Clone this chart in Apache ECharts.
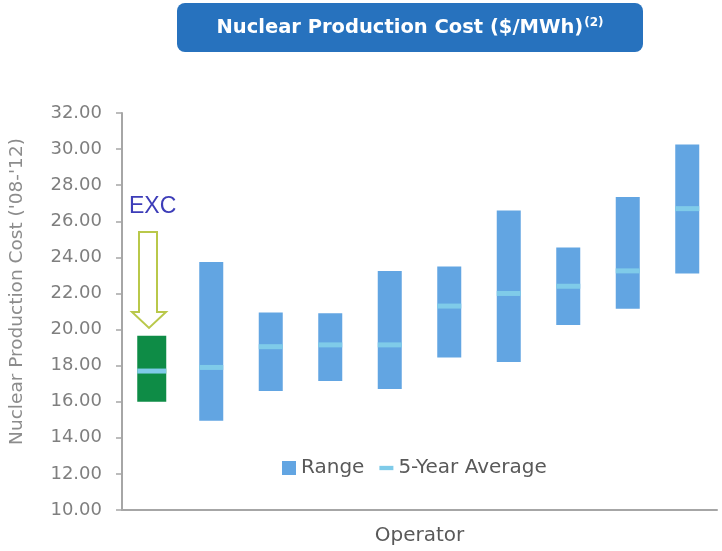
<!DOCTYPE html>
<html>
<head>
<meta charset="utf-8">
<title>Nuclear Production Cost</title>
<script src="https://cdn.jsdelivr.net/npm/echarts@6/dist/echarts.min.js"></script>
<style>
  html, body { margin: 0; padding: 0; background: #fff; }
  #chart { width: 722px; height: 551px; }
</style>
</head>
<body>
<div id="chart"></div>
<script>
// operators, EXC first (other operators are not named in the source)
const operators = ['EXC', 'Op 1', 'Op 2', 'Op 3', 'Op 4', 'Op 5', 'Op 6', 'Op 7', 'Op 8', 'Op 9'];
const rangeLow = [16.0, 14.95, 16.6, 17.15, 16.7, 18.45, 18.2, 20.25, 21.15, 23.1];
const rangeHigh = [19.65, 23.75, 20.95, 20.9, 23.25, 23.5, 26.6, 24.55, 27.35, 30.25];
const fiveYearAvg = [17.7, 17.9, 19.05, 19.15, 19.15, 21.3, 22.0, 22.4, 23.25, 26.7];
const yTicks = { min: 10, max: 32, interval: 2 };

const BLUE = '#62a5e2';
const GREEN = '#0e8c46';
const AVG = '#7fcbe9';
const AXIS = '#a6a6a6';
const GRAY_TXT = '#7f7f7f';

let myChart = echarts.init(document.getElementById('chart'));

function barW(idx) {
  return idx === 0 ? 29 : 24;   // EXC drawn a bit wider
}

function renderRange(params, api) {
  const idx = api.value(0);
  const lo = api.coord([idx, api.value(1)]);
  const hi = api.coord([idx, api.value(2)]);
  const w = barW(idx);
  return {
    type: 'rect',
    shape: { x: lo[0] - w / 2, y: hi[1], width: w, height: lo[1] - hi[1] },
    style: { fill: idx === 0 ? GREEN : BLUE }
  };
}

myChart.setOption({
  animation: false,
  textStyle: { fontFamily: 'DejaVu Sans' },
  grid: { left: 122, right: 5, top: 113, bottom: 41 },
  graphic: [
    {
      type: 'rect',
      shape: { x: 177, y: 3, width: 466, height: 49, r: 8 },
      style: { fill: '#2772be' }
    },
    {
      type: 'text',
      style: {
        x: 410, y: 28,
        align: 'center',
        verticalAlign: 'middle',
        text: '{m|Nuclear Production Cost ($/MWh)}{s|(2)}',
        rich: {
          m: { fontFamily: 'DejaVu Sans', fontWeight: 'bold', fontSize: 19.5, fill: '#fff', color: '#fff' },
          s: { fontFamily: 'DejaVu Sans', fontWeight: 'bold', fontSize: 12, fill: '#fff', color: '#fff', padding: [0, 0, 10, 1] }
        }
      }
    },
    {
      type: 'text',
      style: {
        x: 129, y: 207,
        verticalAlign: 'middle',
        text: 'EXC',
        fontFamily: 'Liberation Sans',
        fontSize: 23,
        fill: '#3d3db8'
      }
    },
    {
      // hollow arrow pointing at EXC
      type: 'polygon',
      shape: {
        points: [[139, 232], [157, 232], [157, 312], [166, 312], [149, 328], [132, 312], [139, 312]]
      },
      style: { fill: '#fff', stroke: '#b9c84a', lineWidth: 2 }
    }
  ],
  legend: {
    left: 277,
    top: 453,
    itemWidth: 14,
    itemHeight: 14,
    itemGap: 15,
    textStyle: { color: '#595959', fontSize: 20, fontFamily: 'DejaVu Sans' },
    data: [
      { name: 'Range', icon: 'rect' },
      { name: '5-Year Average', icon: 'path://M0,0L13,0L13,4L0,4Z' }
    ]
  },
  xAxis: {
    type: 'category',
    data: operators,
    name: 'Operator',
    nameLocation: 'middle',
    nameGap: 16,
    nameTextStyle: { color: '#595959', fontSize: 20, fontFamily: 'DejaVu Sans' },
    axisLine: { lineStyle: { color: AXIS, width: 2 } },
    axisTick: { show: false },
    axisLabel: { show: false },
    splitLine: { show: false }
  },
  yAxis: {
    type: 'value',
    min: yTicks.min,
    max: yTicks.max,
    interval: yTicks.interval,
    name: "Nuclear Production Cost ('08-'12)",
    nameLocation: 'middle',
    nameGap: 95,
    nameTextStyle: { color: '#8c8c8c', fontSize: 18.5, fontFamily: 'DejaVu Sans', padding: [0, 0, 0, 40] },
    axisLine: { show: true, lineStyle: { color: AXIS, width: 2 } },
    axisTick: { show: true, length: 6, lineStyle: { color: AXIS, width: 1.5 } },
    axisLabel: {
      color: GRAY_TXT,
      fontSize: 18,
      fontFamily: 'DejaVu Sans',
      margin: 20,
      formatter: v => v.toFixed(2)
    },
    splitLine: { show: false }
  },
  series: [
    {
      name: 'Range',
      type: 'custom',
      renderItem: renderRange,
      itemStyle: { color: BLUE },
      encode: { x: 0, y: [1, 2] },
      data: operators.map((op, i) => [i, rangeLow[i], rangeHigh[i]])
    },
    {
      name: '5-Year Average',
      type: 'scatter',
      symbol: 'rect',
      symbolSize: (val, params) => [barW(params.dataIndex), 5],
      itemStyle: { color: AVG, opacity: 1 },
      data: fiveYearAvg
    }
  ]
});
</script>
</body>
</html>
